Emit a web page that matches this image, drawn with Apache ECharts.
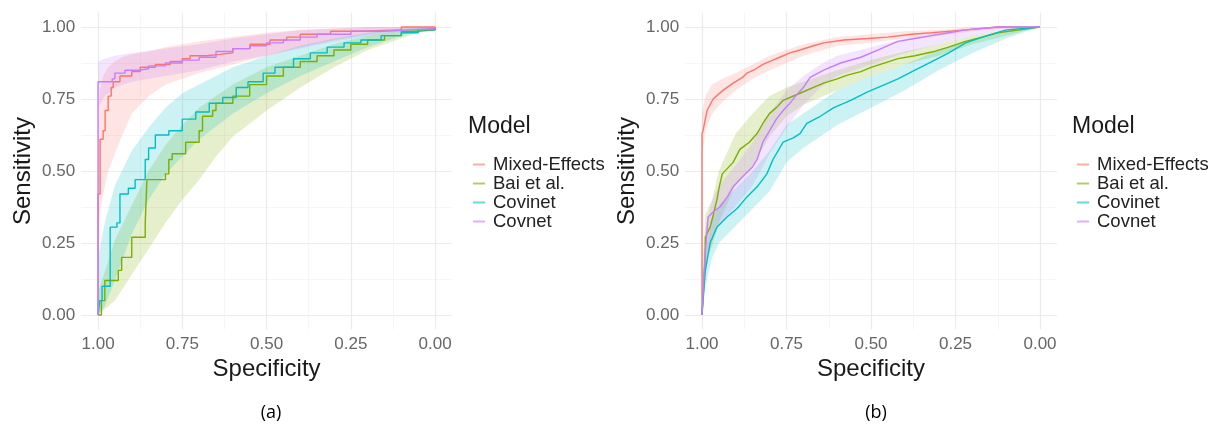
<!DOCTYPE html>
<html>
<head>
<meta charset="utf-8">
<script src="https://cdn.jsdelivr.net/npm/echarts@6/dist/echarts.min.js"></script>
<style>
html, body { margin: 0; padding: 0; background: #fff; }
#main { width: 1213px; height: 435px; }
</style>
</head>
<body>
<div id="main"></div>
<script>
// models, in legend order
const modelNames = ['Mixed-Effects', 'Bai et al.', 'Covinet', 'Covnet']
const modelColors = ['#F8766D', '#7CAE00', '#00BFC4', '#C77CFF']
const tickValues = [1, 0.75, 0.5, 0.25, 0]
const minorValues = [0.875, 0.625, 0.375, 0.125]

// panel (a): [specificity, sensitivity]
const aMixedLine = [[1, 0], [1, 0.42], [0.994, 0.61], [0.985, 0.64], [0.979, 0.71], [0.970, 0.76], [0.961, 0.79], [0.955, 0.81], [0.935, 0.83], [0.9, 0.845], [0.875, 0.86], [0.83, 0.87], [0.786, 0.88], [0.75, 0.89], [0.727, 0.9], [0.68, 0.905], [0.638, 0.91], [0.6, 0.925], [0.549, 0.94], [0.49, 0.955], [0.44, 0.965], [0.4, 0.975], [0.31, 0.985], [0.22, 0.99], [0.1, 1], [0, 1]]
const aBaiLine = [[1, 0], [0.99, 0.05], [0.98, 0.12], [0.94, 0.155], [0.93, 0.2], [0.9, 0.27], [0.86, 0.32], [0.855, 0.47], [0.8, 0.49], [0.79, 0.54], [0.78, 0.56], [0.74, 0.6], [0.7, 0.64], [0.69, 0.69], [0.66, 0.71], [0.65, 0.735], [0.6, 0.76], [0.55, 0.8], [0.5, 0.83], [0.45, 0.86], [0.4, 0.88], [0.35, 0.9], [0.3, 0.92], [0.25, 0.94], [0.2, 0.955], [0.15, 0.97], [0.1, 0.985], [0.05, 0.99], [0, 1]]
const aCovinetLine = [[1, 0], [0.995, 0.05], [0.988, 0.1], [0.964, 0.305], [0.944, 0.32], [0.935, 0.42], [0.91, 0.44], [0.89, 0.47], [0.86, 0.54], [0.85, 0.58], [0.83, 0.625], [0.79, 0.64], [0.75, 0.68], [0.71, 0.705], [0.67, 0.735], [0.63, 0.755], [0.59, 0.79], [0.555, 0.81], [0.51, 0.84], [0.475, 0.86], [0.42, 0.89], [0.37, 0.91], [0.32, 0.93], [0.27, 0.945], [0.22, 0.955], [0.16, 0.97], [0.1, 0.98], [0.05, 0.99], [0, 1]]
const aCovnetLine = [[1, 0], [1, 0.81], [0.958, 0.82], [0.95, 0.84], [0.92, 0.85], [0.88, 0.855], [0.85, 0.865], [0.8, 0.875], [0.75, 0.885], [0.7, 0.895], [0.65, 0.915], [0.6, 0.925], [0.55, 0.935], [0.5, 0.945], [0.45, 0.955], [0.4, 0.965], [0.35, 0.975], [0.25, 0.985], [0.15, 0.99], [0.08, 0.995], [0, 1]]

// confidence ribbons: [specificity, lower, upper]
const aMixedBand = [[1, 0.25, 0.62], [0.995, 0.35, 0.78], [0.985, 0.42, 0.83], [0.97, 0.5, 0.86], [0.95, 0.56, 0.88], [0.93, 0.62, 0.895], [0.9, 0.7, 0.905], [0.85, 0.76, 0.915], [0.8, 0.8, 0.93], [0.75, 0.82, 0.94], [0.7, 0.84, 0.95], [0.6, 0.87, 0.965], [0.5, 0.9, 0.98], [0.4, 0.93, 0.99], [0.3, 0.955, 0.995], [0.2, 0.975, 1], [0.1, 0.99, 1], [0, 1, 1]]
const aBaiBand = [[1, 0, 0.08], [0.98, 0.02, 0.15], [0.95, 0.05, 0.26], [0.9, 0.14, 0.38], [0.85, 0.23, 0.5], [0.8, 0.32, 0.59], [0.75, 0.4, 0.66], [0.7, 0.47, 0.72], [0.65, 0.55, 0.76], [0.6, 0.62, 0.8], [0.5, 0.71, 0.86], [0.4, 0.79, 0.9], [0.3, 0.86, 0.94], [0.2, 0.92, 0.97], [0.1, 0.96, 0.99], [0, 1, 1]]
const aCovinetBand = [[1, 0, 0.2], [0.98, 0.03, 0.32], [0.95, 0.12, 0.45], [0.9, 0.28, 0.57], [0.85, 0.4, 0.65], [0.8, 0.49, 0.72], [0.75, 0.55, 0.77], [0.7, 0.61, 0.8], [0.6, 0.7, 0.86], [0.5, 0.77, 0.9], [0.4, 0.83, 0.935], [0.3, 0.88, 0.96], [0.2, 0.93, 0.98], [0.1, 0.97, 0.995], [0, 1, 1]]
const aCovnetBand = [[1, 0.72, 0.88], [0.98, 0.76, 0.89], [0.95, 0.79, 0.9], [0.9, 0.81, 0.91], [0.8, 0.83, 0.925], [0.7, 0.85, 0.94], [0.6, 0.88, 0.96], [0.5, 0.9, 0.975], [0.4, 0.925, 0.99], [0.3, 0.95, 0.995], [0.2, 0.97, 1], [0.1, 0.985, 1], [0, 1, 1]]

// panel (b)
const bMixedLine = [[1, 0], [1, 0.63], [0.997, 0.64], [0.985, 0.71], [0.967, 0.75], [0.938, 0.78], [0.908, 0.805], [0.88, 0.825], [0.867, 0.84], [0.84, 0.855], [0.82, 0.87], [0.79, 0.885], [0.77, 0.895], [0.74, 0.91], [0.71, 0.92], [0.67, 0.935], [0.64, 0.945], [0.58, 0.955], [0.51, 0.96], [0.45, 0.965], [0.38, 0.975], [0.32, 0.98], [0.22, 0.99], [0.125, 1], [0, 1]]
const bBaiLine = [[1, 0], [0.995, 0.1], [0.991, 0.19], [0.99, 0.27], [0.976, 0.305], [0.966, 0.35], [0.956, 0.4], [0.948, 0.45], [0.94, 0.49], [0.908, 0.53], [0.888, 0.575], [0.86, 0.6], [0.837, 0.63], [0.82, 0.665], [0.8, 0.7], [0.78, 0.72], [0.76, 0.745], [0.71, 0.77], [0.67, 0.79], [0.64, 0.805], [0.6, 0.82], [0.57, 0.833], [0.53, 0.845], [0.5, 0.86], [0.42, 0.89], [0.37, 0.9], [0.32, 0.913], [0.27, 0.93], [0.22, 0.95], [0.17, 0.965], [0.125, 0.98], [0.06, 0.99], [0, 1]]
const bCovinetLine = [[1, 0], [0.995, 0.08], [0.99, 0.155], [0.976, 0.25], [0.956, 0.305], [0.926, 0.34], [0.896, 0.37], [0.867, 0.41], [0.837, 0.445], [0.808, 0.49], [0.79, 0.54], [0.76, 0.6], [0.73, 0.615], [0.71, 0.63], [0.69, 0.665], [0.65, 0.69], [0.61, 0.72], [0.56, 0.745], [0.51, 0.775], [0.47, 0.795], [0.42, 0.82], [0.37, 0.85], [0.32, 0.88], [0.27, 0.91], [0.22, 0.945], [0.17, 0.965], [0.1, 0.99], [0.05, 0.995], [0, 1]]
const bCovnetLine = [[1, 0], [0.995, 0.12], [0.99, 0.22], [0.982, 0.34], [0.965, 0.36], [0.947, 0.375], [0.925, 0.41], [0.908, 0.445], [0.88, 0.48], [0.85, 0.515], [0.837, 0.54], [0.82, 0.6], [0.8, 0.64], [0.78, 0.68], [0.76, 0.71], [0.74, 0.735], [0.72, 0.765], [0.7, 0.79], [0.68, 0.825], [0.64, 0.85], [0.59, 0.875], [0.53, 0.895], [0.48, 0.92], [0.45, 0.935], [0.42, 0.95], [0.37, 0.96], [0.32, 0.97], [0.27, 0.98], [0.22, 0.99], [0.125, 1], [0, 1]]

const bMixedBand = [[1, 0.55, 0.7], [0.99, 0.64, 0.76], [0.97, 0.7, 0.8], [0.94, 0.74, 0.82], [0.9, 0.78, 0.84], [0.85, 0.82, 0.87], [0.8, 0.85, 0.9], [0.7, 0.9, 0.94], [0.6, 0.935, 0.965], [0.5, 0.945, 0.975], [0.4, 0.96, 0.985], [0.3, 0.97, 0.99], [0.2, 0.985, 1], [0.1, 0.995, 1], [0, 1, 1]]
const bBaiBand = [[1, 0, 0.15], [0.99, 0.18, 0.35], [0.97, 0.24, 0.4], [0.95, 0.32, 0.5], [0.92, 0.4, 0.58], [0.9, 0.45, 0.63], [0.85, 0.52, 0.7], [0.8, 0.62, 0.76], [0.75, 0.69, 0.79], [0.7, 0.73, 0.81], [0.6, 0.78, 0.85], [0.5, 0.83, 0.885], [0.4, 0.87, 0.915], [0.3, 0.9, 0.94], [0.2, 0.94, 0.97], [0.1, 0.97, 0.99], [0, 1, 1]]
const bCovinetBand = [[1, 0, 0.08], [0.99, 0.1, 0.22], [0.97, 0.2, 0.33], [0.95, 0.25, 0.38], [0.9, 0.31, 0.44], [0.85, 0.37, 0.5], [0.8, 0.43, 0.57], [0.75, 0.53, 0.66], [0.7, 0.58, 0.7], [0.6, 0.66, 0.78], [0.5, 0.72, 0.83], [0.4, 0.78, 0.87], [0.3, 0.85, 0.92], [0.2, 0.91, 0.96], [0.1, 0.96, 0.99], [0, 1, 1]]
const bCovnetBand = [[1, 0, 0.1], [0.99, 0.15, 0.3], [0.97, 0.26, 0.4], [0.95, 0.31, 0.45], [0.9, 0.38, 0.52], [0.85, 0.45, 0.6], [0.8, 0.56, 0.7], [0.75, 0.65, 0.78], [0.7, 0.73, 0.83], [0.65, 0.79, 0.87], [0.6, 0.83, 0.9], [0.5, 0.87, 0.93], [0.4, 0.91, 0.96], [0.3, 0.94, 0.98], [0.2, 0.97, 0.995], [0.1, 0.99, 1], [0, 1, 1]]

const panels = [
  { lines: [aMixedLine, aBaiLine, aCovinetLine, aCovnetLine], bands: [aMixedBand, aBaiBand, aCovinetBand, aCovnetBand], step: 'end' },
  { lines: [bMixedLine, bBaiLine, bCovinetLine, bCovnetLine], bands: [bMixedBand, bBaiBand, bCovinetBand, bCovnetBand], step: false }
]

const font = 'Liberation Sans, Arial, sans-serif'
const myChart = echarts.init(document.getElementById('main'))

// ggplot-like 5% expansion around [0, 1]
function axisBase (gridIndex, values) {
  return {
    gridIndex: gridIndex,
    type: 'value',
    min: -0.05,
    max: 1.05,
    axisLine: { show: false },
    axisTick: { show: false, customValues: values },
    splitLine: { lineStyle: { color: '#ebebeb', width: 1.2 } },
    axisLabel: {
      fontFamily: font,
      fontSize: 17,
      color: '#666',
      margin: 6,
      customValues: values,
      formatter: v => v.toFixed(2)
    }
  }
}

function minorAxis (gridIndex, pos) {
  const ax = axisBase(gridIndex, minorValues)
  ax.position = pos
  ax.axisLabel.show = false
  ax.splitLine = { lineStyle: { color: '#f4f4f4', width: 0.8 } }
  return ax
}

// ribbon drawn as one polygon through the axis scales
function bandRender (band, color) {
  return function (params, api) {
    if (params.dataIndex !== 0) return
    const upper = band.map(p => api.coord([p[0], p[2]]))
    const lower = band.slice().reverse().map(p => api.coord([p[0], p[1]]))
    return {
      type: 'polygon',
      shape: { points: upper.concat(lower) },
      style: { fill: color, opacity: 0.2 }
    }
  }
}

const series = []
panels.forEach((panel, gi) => {
  modelNames.forEach((name, i) => {
    series.push({
      name: name,
      type: 'custom',
      xAxisIndex: gi,
      yAxisIndex: gi,
      renderItem: bandRender(panel.bands[i], modelColors[i]),
      data: panel.bands[i],
      encode: { x: 0, y: [1, 2] },
      silent: true,
      z: 1
    })
  })
  modelNames.forEach((name, i) => {
    series.push({
      name: name,
      type: 'line',
      xAxisIndex: gi,
      yAxisIndex: gi,
      step: panel.step,
      showSymbol: false,
      data: panel.lines[i],
      lineStyle: { color: modelColors[i], width: 1.4 },
      itemStyle: { color: modelColors[i] },
      z: 3
    })
  })
})

const legendData = modelNames.map((name, i) => ({
  name: name,
  icon: 'rect',
  itemStyle: { color: modelColors[i], opacity: 0.6 }
}))

function legendAt (left) {
  return {
    orient: 'vertical',
    left: left,
    top: 150,
    data: legendData,
    itemWidth: 12,
    itemHeight: 2,
    itemGap: 0,
    selectedMode: false,
    textStyle: { fontFamily: font, fontSize: 18.5, color: '#222', lineHeight: 18.5, padding: [0, 0, 0, 3] }
  }
}

const xAxes = []
const yAxes = []
;[0, 1].forEach(gi => {
  const x = axisBase(gi, tickValues)
  x.inverse = true
  x.position = 'bottom'
  x.name = 'Specificity'
  x.nameLocation = 'middle'
  x.nameGap = 22
  x.nameTextStyle = { fontFamily: font, fontSize: 24, color: '#1a1a1a' }
  const y = axisBase(gi, tickValues)
  y.position = 'left'
  y.name = 'Sensitivity'
  y.nameLocation = 'middle'
  y.nameGap = 46
  y.nameTextStyle = { fontFamily: font, fontSize: 24, color: '#1a1a1a' }
  xAxes[gi] = x
  yAxes[gi] = y
})
;[0, 1].forEach(gi => {
  const mx = minorAxis(gi, 'top')
  mx.inverse = true
  xAxes.push(mx)
  yAxes.push(minorAxis(gi, 'right'))
})

const option = {
  backgroundColor: '#fff',
  animation: false,
  grid: [
    { left: 81.2, top: 12.6, width: 370.7, height: 316.8 },
    { left: 685.1, top: 12.6, width: 371.8, height: 316.8 }
  ],
  xAxis: xAxes,
  yAxis: yAxes,
  legend: [legendAt(468), legendAt(1072)],
  title: [
    { text: 'Model', left: 463, top: 110, textStyle: { fontFamily: font, fontSize: 23, fontWeight: 'normal', color: '#1a1a1a' } },
    { text: 'Model', left: 1067, top: 110, textStyle: { fontFamily: font, fontSize: 23, fontWeight: 'normal', color: '#1a1a1a' } },
    { text: '(a)', left: 266, top: 399, textAlign: 'center', textStyle: { fontFamily: 'Open Sans, sans-serif', fontSize: 18, fontWeight: 'normal', color: '#000' } },
    { text: '(b)', left: 871, top: 399, textAlign: 'center', textStyle: { fontFamily: 'Open Sans, sans-serif', fontSize: 18, fontWeight: 'normal', color: '#000' } }
  ],
  series: series
}

myChart.setOption(option)
window.addEventListener('resize', () => {
  myChart.resize()
})
</script>
</body>
</html>
